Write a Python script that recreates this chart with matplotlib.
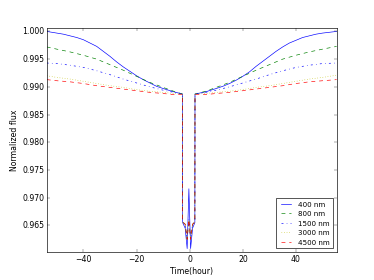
import matplotlib
matplotlib.use("Agg")
import matplotlib.pyplot as plt
from matplotlib.ticker import FormatStrFormatter

plt.style.use("classic")

# time (hours)
time = [-53.8, -50, -45, -40, -35, -30, -25, -20, -15, -10, -6, -2.7,
        -2.65, -1.7, -0.95, -0.3, 0.35, 1.1, 1.95,
        2.0, 6, 10, 15, 20, 25, 30, 35, 40, 45, 50, 55.3]

# the 400 nm curve bends more, so it is read at a finer step
time_400 = [-53.8, -50, -47.5, -45, -42.5, -40, -37.5, -35, -32.5, -30, -27.5, -25, -22.5, -20,
            -17.5, -15, -12.5, -10, -6, -2.7,
            -2.65, -1.7, -0.95, -0.3, 0.35, 1.1, 1.95,
            2.0, 6, 10, 12.5, 15, 17.5, 20, 22.5, 25, 27.5, 30, 32.5, 35, 37.5, 40, 42.5, 45,
            47.5, 50, 55.3]

flux_400 = [1.0000, 0.9997, 0.9995, 0.9992, 0.9989, 0.9985, 0.9979, 0.9973, 0.9964, 0.9955, 0.9945,
            0.9936, 0.9928, 0.9920, 0.9913, 0.9907, 0.9901, 0.9897, 0.9891, 0.9887,
            0.9655, 0.9645, 0.9608, 0.9716, 0.9608, 0.9645, 0.9655,
            0.9887, 0.9891, 0.9897, 0.9901, 0.9906, 0.9912, 0.9919, 0.9927, 0.9937, 0.9946, 0.9955,
            0.9964, 0.9972, 0.9979, 0.9984, 0.9989, 0.9992, 0.9995, 0.9997, 1.0000]
flux_800 = [0.9972, 0.9968, 0.9963, 0.9957, 0.9950, 0.9940, 0.9930, 0.9919, 0.9908, 0.9899, 0.9892, 0.9887,
            0.9656, 0.9652, 0.9625, 0.9660, 0.9625, 0.9652, 0.9656,
            0.9887, 0.9892, 0.9899, 0.9908, 0.9919, 0.9930, 0.9940, 0.9950, 0.9957, 0.9963, 0.9968, 0.9973]
flux_1500 = [0.9943, 0.9942, 0.9939, 0.9935, 0.9929, 0.9922, 0.9914, 0.9907, 0.9900, 0.9894, 0.9890, 0.9887,
             0.9656, 0.9652, 0.9625, 0.9660, 0.9625, 0.9652, 0.9656,
             0.9887, 0.9890, 0.9894, 0.9900, 0.9907, 0.9914, 0.9922, 0.9929, 0.9935, 0.9939, 0.9942, 0.9943]
flux_3000 = [0.9920, 0.9917, 0.9914, 0.9910, 0.9906, 0.9902, 0.9899, 0.9895, 0.9892, 0.9890, 0.9888, 0.9887,
             0.9656, 0.9652, 0.9625, 0.9660, 0.9625, 0.9652, 0.9656,
             0.9887, 0.9888, 0.9890, 0.9892, 0.9895, 0.9899, 0.9902, 0.9906, 0.9910, 0.9914, 0.9917, 0.9921]
flux_4500 = [0.9913, 0.9911, 0.9909, 0.9906, 0.9902, 0.9899, 0.9896, 0.9893, 0.9890, 0.9888, 0.9886, 0.9886,
             0.9656, 0.9652, 0.9625, 0.9660, 0.9625, 0.9652, 0.9656,
             0.9886, 0.9886, 0.9888, 0.9890, 0.9893, 0.9896, 0.9899, 0.9902, 0.9906, 0.9909, 0.9911, 0.9913]

labels = ["400 nm", "800 nm", "1500 nm", "3000 nm", "4500 nm"]
times = [time_400, time, time, time, time]
series = [flux_400, flux_800, flux_1500, flux_3000, flux_4500]
styles = [("b", "-"), ("g", "--"), ("b", "-."), ("y", ":"), ("r", "--")]

fig = plt.figure(figsize=(8, 6), dpi=46.75)
ax = fig.add_subplot(111)

for t, flux, lab, (c, ls) in zip(times, series, labels, styles):
    ax.plot(t, flux, color=c, linestyle=ls, linewidth=1.0, label=lab)

ax.set_xlim(-53.8, 55.3)
ax.set_ylim(0.9602, 1.0007)
ax.set_xticks([-40, -20, 0, 20, 40])
ax.set_yticks([0.965, 0.970, 0.975, 0.980, 0.985, 0.990, 0.995, 1.000])
ax.yaxis.set_major_formatter(FormatStrFormatter("%.3f"))

ax.set_xlabel("Time(hour)")
ax.set_ylabel("Normalized flux")
ax.legend(loc="lower right", prop={"size": 11}, handlelength=2.0)

fig.savefig("out.png", dpi=46.75)
